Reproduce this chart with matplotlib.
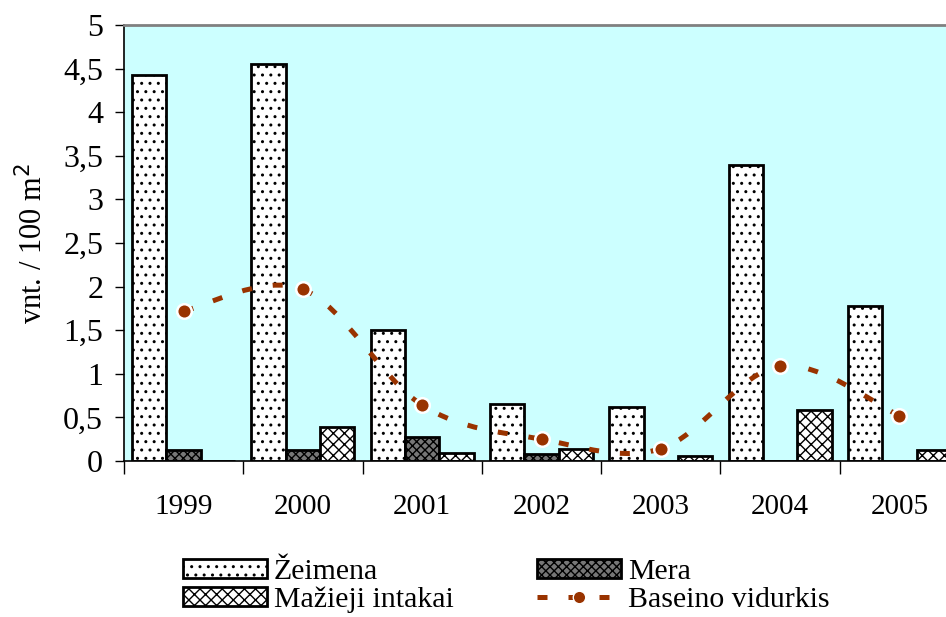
import numpy as np
import matplotlib.pyplot as plt
from matplotlib.path import Path
from matplotlib.patches import PathPatch, Patch
from matplotlib.lines import Line2D
from matplotlib.ticker import FuncFormatter, FixedLocator

plt.rcParams['font.family'] = ['Liberation Serif', 'DejaVu Serif']
plt.rcParams['hatch.linewidth'] = 1.0

### Data
years = ['1999', '2000', '2001', '2002', '2003', '2004', '2005']
zeimena = [4.43, 4.55, 1.50, 0.65, 0.62, 3.39, 1.78]
mera = [0.13, 0.13, 0.28, 0.08, 0.0, 0.0, 0.0]
maziej = [0.0, 0.39, 0.09, 0.14, 0.06, 0.59, 0.13]
vidurkis = [1.72, 1.97, 0.64, 0.25, 0.14, 1.09, 0.52]

line_col = '#993300'
mera_face = '#777777'

def smooth_path(xs, ys):
    # Excel-like smoothed line (Catmull-Rom as cubic Bezier)
    pts = np.column_stack([xs, ys])
    n = len(pts)
    verts = [pts[0]]
    codes = [Path.MOVETO]
    for i in range(n - 1):
        p0 = pts[max(i - 1, 0)]
        p1 = pts[i]
        p2 = pts[i + 1]
        p3 = pts[min(i + 2, n - 1)]
        c1 = p1 + (p2 - p0) / 6.0
        c2 = p2 - (p3 - p1) / 6.0
        verts += [c1, c2, p2]
        codes += [Path.CURVE4] * 3
    return Path(verts, codes)

fig = plt.figure(figsize=(9.46, 6.17), dpi=100)
ax = fig.add_axes([124 / 946, 156 / 617, 835 / 946, 436 / 617])
ax.set_facecolor('#CCFFFF')

x = np.arange(len(years))
w = 0.2877
ax.bar(x - w, zeimena, w, color='white', edgecolor='black', linewidth=2, hatch='..', zorder=2)
ax.bar(x, mera, w, color=mera_face, edgecolor='black', linewidth=2, hatch='xxxx', zorder=2)
ax.bar(x + w, maziej, w, color='white', edgecolor='black', linewidth=2, hatch='xxx', zorder=2)

dash = (0, (2.0, 4.2))
ax.add_patch(PathPatch(smooth_path(x, vidurkis), fill=False, edgecolor=line_col,
                       linewidth=3.6, linestyle=dash, zorder=3))
ax.plot(x, vidurkis, 'o', ms=10.5, mfc=line_col, mec='white', mew=1.8, zorder=4)

ax.set_xlim(-0.5, len(years) - 0.5)
ax.set_ylim(0, 5)
ax.set_yticks(np.arange(0, 5.01, 0.5))
ax.yaxis.set_major_formatter(FuncFormatter(lambda v, p: ('%g' % v).replace('.', ',')))
ax.tick_params(axis='y', labelsize=23, length=6.5, width=1, pad=8.5, direction='out')

ax.set_xticks(x)
ax.set_xticklabels(years)
ax.xaxis.set_minor_locator(FixedLocator(np.arange(-0.5, len(years), 1.0)))
ax.tick_params(axis='x', which='major', length=0, labelsize=21, pad=24)
ax.tick_params(axis='x', which='minor', length=9, width=1, direction='out')

ax.set_ylabel('vnt. / 100 m$^2$', fontsize=22, labelpad=10)

ax.spines['top'].set_color('#808080')
ax.spines['top'].set_linewidth(2)
ax.spines['left'].set_linewidth(1.2)
ax.spines['bottom'].set_linewidth(1.2)

# legend: one entry per slot so the two columns line up as in the reference
handles = [
    Patch(facecolor='white', edgecolor='black', linewidth=2, hatch='..'),
    Patch(facecolor=mera_face, edgecolor='black', linewidth=2, hatch='xxxx'),
    Patch(facecolor='white', edgecolor='black', linewidth=2, hatch='xxx'),
    Line2D([], [], color=line_col, linewidth=3.6, linestyle=dash, marker='o',
           ms=9, mfc=line_col, mec='white', mew=1.0),
]
labels = ['Žeimena', 'Mera', 'Mažieji intakai', 'Baseino vidurkis']
slots = [(183, 572), (537, 572), (183, 600), (537, 600)]
for h, lab, (sx, sy) in zip(handles, labels, slots):
    fig.legend([h], [lab], loc='center left', bbox_to_anchor=(sx / 946, 1 - sy / 617),
               frameon=False, fontsize=21.5, handlelength=2.8, handleheight=0.6,
               handletextpad=0.25, borderpad=0, borderaxespad=0, numpoints=1)

plt.savefig('out.png', dpi=100)
